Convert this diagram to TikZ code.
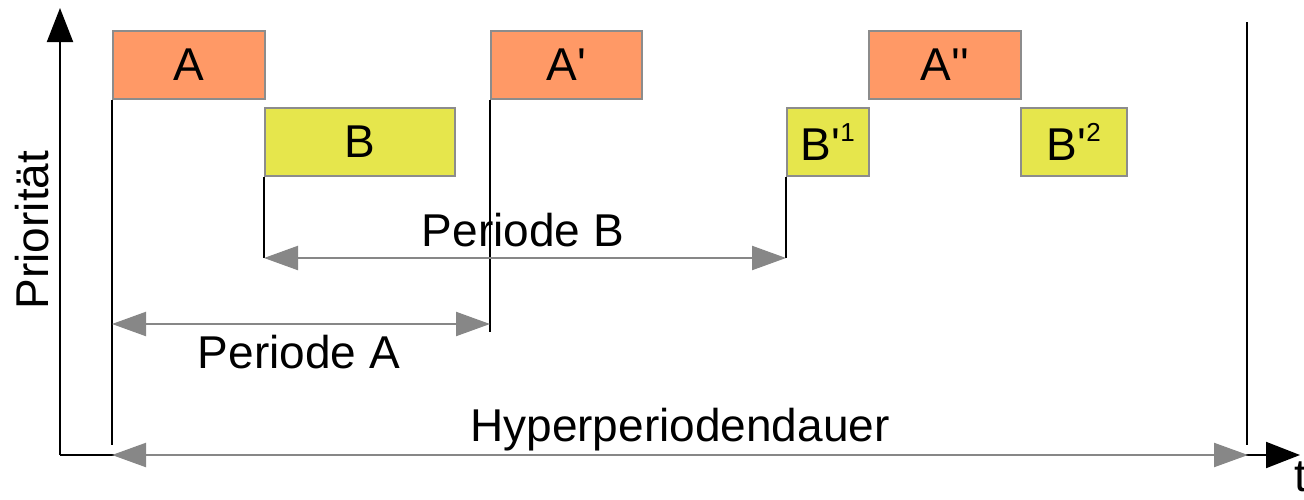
\documentclass[tikz,border=0pt]{standalone}
\usepackage{fontspec}
\setmainfont{Liberation Sans}[Ligatures=TeXOff]
\usetikzlibrary{arrows.meta}
\definecolor{orangebox}{HTML}{FF9966}
\definecolor{yellowbox}{HTML}{E6E64C}
\definecolor{dimgray}{HTML}{878787}
\definecolor{boxborder}{HTML}{8C8C8C}
\newcommand{\sq}{\char39}
\newcommand{\supnum}[1]{\raisebox{0.42em}{\fontsize{26}{26}\selectfont #1}}
\begin{document}
\begin{tikzpicture}[x=1pt,y=-1pt,
  bigfont/.style={font=\fontsize{46}{52}\selectfont},
  taskbox/.style={draw=boxborder, line width=1.6pt, inner sep=0pt, anchor=north west, minimum height=68pt, bigfont},
  taska/.style={taskbox, fill=orangebox},
  taskb/.style={taskbox, fill=yellowbox},
  marker/.style={draw=black, line width=1.8pt},
  axis/.style={draw=black, line width=2pt, -{Triangle[length=34pt,width=26pt]}},
  dimline/.style={draw=dimgray, line width=2.2pt, {Triangle[length=34pt,width=24pt]}-{Triangle[length=34pt,width=24pt]}},
  lbl/.style={bigfont, inner sep=0pt}
]
\useasboundingbox (0,0) rectangle (1304,499);
% axes
\coordinate (O) at (60,455);
\coordinate (ytop) at (60,8);
\coordinate (xend) at (1300,455);
\draw[axis] (O) -- (ytop);
\draw[axis] (O) -- (xend);
\node[lbl, anchor=north west] (t) at (1294,462) {t};
\node[lbl, rotate=90] (prio) at (32,230) {Priorität};
% task boxes
\node[taska, minimum width=152pt] (A) at (112,30) {A};
\node[taskb, minimum width=190pt] (B) at (264,107) {B};
\node[taska, minimum width=151pt] (A1) at (490,30) {A\sq};
\node[taskb, minimum width=82pt] (B1) at (786,107) {B\sq\supnum{1}};
\node[taska, minimum width=152pt] (A2) at (868,30) {A\sq\sq};
\node[taskb, minimum width=106pt] (B2) at (1020,107) {B\sq\supnum{2}};
% marker lines
\coordinate (aEnd) at (112,445);
\coordinate (bEnd) at (264,258);
\coordinate (a1End) at (490,332);
\coordinate (b1End) at (786,258);
\coordinate (hTop) at (1247,22);
\coordinate (hEnd) at (1247,445);
\draw[marker] (A.south west) -- (aEnd);
\draw[marker] (B.south west) -- (bEnd);
\draw[marker] (A1.south west) -- (a1End);
\draw[marker] (B1.south west) -- (b1End);
\draw[marker] (hTop) -- (hEnd);
% dimension arrows
\coordinate (pbL) at (264,258);
\coordinate (pbR) at (786,258);
\coordinate (paL) at (112,324);
\coordinate (paR) at (490,324);
\coordinate (hL) at (112,455);
\coordinate (hR) at (1248,455);
\draw[dimline] (pbL) -- (pbR);
\draw[dimline] (paL) -- (paR);
\draw[dimline] (hL) -- (hR);
\node[lbl] (perB) at (523,230) {Periode B};
\node[lbl] (perA) at (299,352) {Periode A};
\node[lbl] (hyp) at (680,430) {Hyperperiodendauer};
\end{tikzpicture}
\end{document}
